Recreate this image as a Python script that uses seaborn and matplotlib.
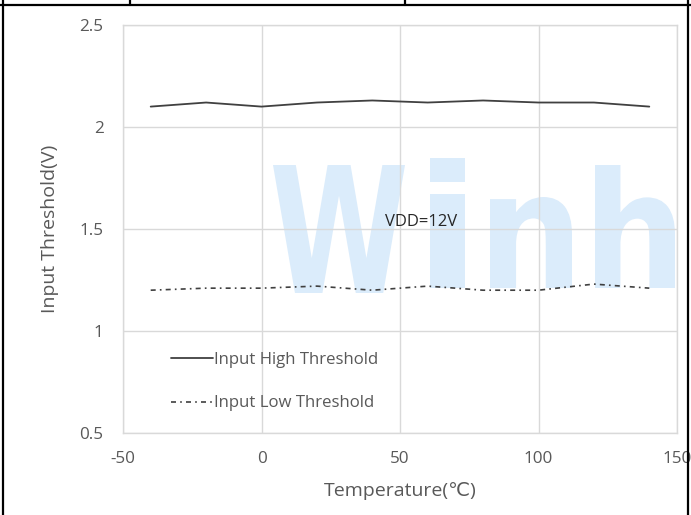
import numpy as np
import pandas as pd
import matplotlib
matplotlib.use('Agg')
import matplotlib.pyplot as plt
import seaborn as sns
from matplotlib.lines import Line2D
from matplotlib.textpath import TextPath
from matplotlib.patches import PathPatch
from matplotlib.transforms import Affine2D
from matplotlib.font_manager import FontProperties

# ==========================================
# Data
# ==========================================
temperature = [-40, -20, 0, 20, 40, 60, 80, 100, 120, 140]
high_threshold = [2.10, 2.12, 2.10, 2.12, 2.13, 2.12, 2.13, 2.12, 2.12, 2.10]
low_threshold = [1.20, 1.21, 1.21, 1.22, 1.20, 1.22, 1.20, 1.20, 1.23, 1.21]
series_names = ['Input High Threshold', 'Input Low Threshold']
x_ticks = [-50, 0, 50, 100, 150]
y_ticks = [0.5, 1.0, 1.5, 2.0, 2.5]
y_tick_labels = ['0.5', '1', '1.5', '2', '2.5']

# ==========================================
# Style
# ==========================================
sns.set_style('white')
plt.rcParams['font.family'] = ['Open Sans', 'DejaVu Sans']
plt.rcParams['axes.unicode_minus'] = False
TEXT_GRAY = '#595959'
LINE_GRAY = '#404040'
GRID_GRAY = '#d9d9d9'

W, H = 691, 515
fig = plt.figure(figsize=(W / 100, H / 100), dpi=100)
ax = fig.add_axes([123 / W, 1 - 433 / H, (677 - 123) / W, (433 - 25) / H])

df = pd.DataFrame({
    'temp': temperature * 2,
    'volt': high_threshold + low_threshold,
    'series': [series_names[0]] * len(temperature) + [series_names[1]] * len(temperature),
})

sns.lineplot(data=df[df['series'] == series_names[0]], x='temp', y='volt', ax=ax,
             color=LINE_GRAY, linewidth=1.3, label=series_names[0], zorder=3)
sns.lineplot(data=df[df['series'] == series_names[1]], x='temp', y='volt', ax=ax,
             color=LINE_GRAY, linewidth=1.2, linestyle=(0, (3, 2.5, 1, 2.5)),
             label=series_names[1], zorder=3)

ax.set_xlim(-50, 150)
ax.set_ylim(0.5, 2.5)
ax.set_xticks(x_ticks)
ax.set_yticks(y_ticks)
ax.set_yticklabels(y_tick_labels)
ax.tick_params(length=0, labelsize=12.3, labelcolor=TEXT_GRAY)
ax.tick_params(axis='x', pad=13)
ax.tick_params(axis='y', pad=14)
ax.grid(True, color=GRID_GRAY, linewidth=1.0)
ax.set_axisbelow(True)
for sp in ax.spines.values():
    sp.set_color(GRID_GRAY)
    sp.set_linewidth(1.0)

ax.set_xlabel('Temperature(℃)', fontsize=14, color=TEXT_GRAY, labelpad=11)
ax.set_ylabel('Input Threshold(V)', fontsize=14, color=TEXT_GRAY, labelpad=15)

# VDD label, position converted from the reference pixels
ax.text(-50 + (385 - 123) / 554 * 200, 2.5 - (222 - 25) / 408 * 2, 'VDD=12V',
        fontsize=12, color='#262626', va='center', ha='left')

leg = ax.legend(loc='upper left', bbox_to_anchor=(0.06, 0.235), frameon=False,
                fontsize=12.1, labelspacing=1.62, handlelength=2.5, handletextpad=0.05)
for t in leg.get_texts():
    t.set_color(TEXT_GRAY)

# ==========================================
# Light blue watermark letters behind the grid
# ==========================================
wm_font = FontProperties(family='DejaVu Sans', weight='bold')
letter_boxes = [('W', 273, 165, 405, 293), ('i', 430, 158, 465, 288),
                ('n', 490, 197, 572, 288), ('h', 595, 165, 675, 288)]
for ch, x0, y0, x1, y1 in letter_boxes:
    tp = TextPath((0, 0), ch, size=1, prop=wm_font)
    ext = tp.get_extents()
    tr = (Affine2D().translate(-ext.x0, -ext.y0)
          .scale((x1 - x0) / W / ext.width, (y1 - y0) / H / ext.height)
          .translate(x0 / W, 1 - y1 / H) + fig.transFigure)
    ax.add_patch(PathPatch(tp, transform=tr, facecolor='#dbecfb', edgecolor='none', zorder=0.1))

# ==========================================
# Document table borders around the figure
# ==========================================
def fig_line(xs, ys):
    fig.add_artist(Line2D([x / W for x in xs], [1 - y / H for y in ys],
                          color='black', linewidth=1.6, transform=fig.transFigure))

fig_line([0, W], [5, 5])
fig_line([3, 3], [0, H])
fig_line([688, 688], [0, H])
fig_line([130, 130], [0, 5])
fig_line([405, 405], [0, 5])

fig.savefig('out.png', dpi=100)
